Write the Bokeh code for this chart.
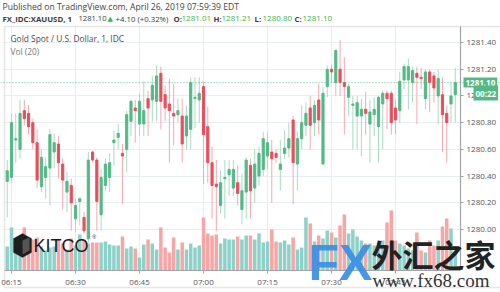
from bokeh.plotting import figure
from bokeh.models import (Range1d, FixedTicker, Label, PolyAnnotation, Span,
                          ColumnDataSource, BoxAnnotation)
from bokeh.embed import file_html
from bokeh.resources import INLINE

# ---------------- data ----------------
first_bar = "06:14"
opens = [1280.36, 1280.39, 1280.67, 1280.60, 1280.89, 1280.87, 1280.80, 1280.65, 1280.32, 1280.39,
         1280.46, 1280.58, 1280.64, 1280.49, 1280.28, 1280.33, 1280.08, 1280.21, 1280.09, 1279.93,
         1280.58, 1280.52, 1280.11, 1280.33, 1280.39, 1280.65, 1280.69, 1280.57, 1280.60, 1280.81,
         1280.91, 1280.79, 1280.79, 1280.98, 1280.97, 1280.96, 1281.17, 1281.01, 1280.94, 1280.87,
         1280.86, 1280.85, 1280.70, 1280.75, 1280.98, 1280.97, 1281.07, 1280.77, 1280.50, 1280.34,
         1280.18, 1280.38, 1280.41, 1280.31, 1280.35, 1280.15, 1280.28, 1280.48, 1280.31, 1280.40,
         1280.45, 1280.55, 1280.58, 1280.57, 1280.45, 1280.57, 1280.61, 1280.82, 1280.49, 1280.68,
         1280.78, 1280.91, 1280.80, 1280.97, 1280.49, 1281.07, 1281.20, 1281.10, 1281.20, 1281.10,
         1280.99, 1280.93, 1280.85, 1280.85, 1280.90, 1280.79, 1280.86, 1280.77, 1280.94, 1281.02,
         1281.02, 1280.91, 1280.89, 1281.12, 1281.12, 1281.10, 1281.17, 1281.14, 1280.98, 1281.18,
         1281.15, 1281.00, 1281.01, 1280.87, 1280.94, 1281.01]
highs = [1280.52, 1280.87, 1280.87, 1280.97, 1280.97, 1280.93, 1280.83, 1280.75, 1280.60, 1280.54,
         1280.75, 1280.72, 1280.70, 1280.53, 1280.43, 1280.38, 1280.23, 1280.24, 1280.13, 1280.58,
         1280.59, 1280.54, 1280.45, 1280.53, 1280.57, 1280.74, 1280.79, 1280.64, 1280.89, 1280.97,
         1280.97, 1281.02, 1281.11, 1281.04, 1281.15, 1281.23, 1281.22, 1281.08, 1281.13, 1281.09,
         1280.98, 1280.98, 1280.93, 1281.14, 1281.14, 1281.14, 1281.11, 1280.92, 1280.62, 1280.52,
         1280.44, 1280.52, 1280.52, 1280.52, 1280.48, 1280.42, 1280.54, 1280.53, 1280.60, 1280.62,
         1280.73, 1280.73, 1280.67, 1280.60, 1280.67, 1280.74, 1280.80, 1280.85, 1280.73, 1280.93,
         1280.95, 1281.00, 1280.97, 1281.09, 1281.07, 1281.23, 1281.23, 1281.35, 1281.42, 1281.29,
         1281.09, 1281.00, 1281.00, 1280.98, 1281.03, 1280.97, 1280.99, 1281.00, 1281.04, 1281.04,
         1281.04, 1280.97, 1281.18, 1281.24, 1281.28, 1281.22, 1281.22, 1281.21, 1281.20, 1281.20,
         1281.18, 1281.20, 1281.14, 1280.93, 1281.10, 1281.21]
lows = [1280.09, 1280.35, 1280.50, 1280.53, 1280.78, 1280.71, 1280.60, 1280.31, 1280.28, 1280.23,
        1280.18, 1280.46, 1280.38, 1280.15, 1280.13, 1279.99, 1279.98, 1280.03, 1279.97, 1279.90,
        1280.50, 1279.99, 1279.99, 1280.29, 1280.28, 1280.48, 1280.60, 1280.19, 1280.43, 1280.70,
        1280.65, 1280.70, 1280.70, 1280.70, 1280.81, 1280.81, 1280.75, 1280.81, 1280.50, 1280.63,
        1280.80, 1280.50, 1280.60, 1280.60, 1280.76, 1280.80, 1280.34, 1280.35, 1280.08, 1279.99,
        1280.12, 1280.08, 1280.25, 1280.25, 1280.18, 1280.04, 1280.08, 1280.08, 1280.20, 1280.33,
        1280.40, 1280.45, 1280.20, 1280.50, 1280.29, 1280.53, 1280.54, 1280.19, 1280.29, 1280.60,
        1280.70, 1280.60, 1280.70, 1280.71, 1280.49, 1280.99, 1281.10, 1281.00, 1281.00, 1280.71,
        1280.85, 1280.60, 1280.60, 1280.55, 1280.71, 1280.50, 1280.70, 1280.50, 1280.60, 1280.75,
        1280.71, 1280.71, 1280.80, 1281.05, 1280.90, 1280.95, 1280.79, 1281.05, 1280.90, 1280.88,
        1280.95, 1280.79, 1280.58, 1280.50, 1280.80, 1280.80]
closes = [1280.44, 1280.80, 1280.68, 1280.87, 1280.83, 1280.77, 1280.65, 1280.37, 1280.54, 1280.47,
          1280.71, 1280.65, 1280.50, 1280.37, 1280.36, 1280.20, 1280.18, 1280.23, 1279.99, 1280.52,
          1280.52, 1280.21, 1280.39, 1280.49, 1280.50, 1280.67, 1280.72, 1280.55, 1280.86, 1280.96,
          1280.89, 1280.96, 1280.89, 1280.91, 1281.08, 1281.15, 1280.96, 1280.91, 1280.89, 1280.85,
          1280.89, 1280.64, 1280.85, 1281.10, 1280.99, 1281.02, 1280.71, 1280.50, 1280.33, 1280.32,
          1280.35, 1280.39, 1280.45, 1280.45, 1280.27, 1280.29, 1280.52, 1280.29, 1280.49, 1280.57,
          1280.68, 1280.65, 1280.53, 1280.54, 1280.49, 1280.61, 1280.68, 1280.50, 1280.68, 1280.80,
          1280.87, 1280.78, 1280.93, 1280.82, 1281.02, 1281.20, 1281.18, 1281.34, 1281.10, 1281.07,
          1281.07, 1280.94, 1280.95, 1280.90, 1280.87, 1280.88, 1280.90, 1280.99, 1281.02, 1280.98,
          1280.80, 1280.82, 1281.11, 1281.22, 1281.22, 1281.19, 1281.14, 1281.13, 1281.18, 1281.10,
          1281.06, 1281.13, 1280.86, 1280.80, 1281.00, 1281.10]
volumes = [24, 43, 32, 30, 43, 33, 31, 33, 24, 20,
           23, 24, 31, 27, 21, 32, 25, 36, 31, 27,
           28, 28, 28, 29, 26, 25, 25, 34, 22, 24,
           22, 13, 26, 31, 27, 21, 43, 23, 18, 33,
           21, 28, 21, 27, 23, 25, 53, 37, 35, 36,
           27, 32, 31, 31, 34, 31, 35, 35, 31, 37,
           28, 29, 41, 29, 28, 30, 26, 33, 21, 23,
           53, 47, 29, 35, 32, 40, 38, 33, 45, 56,
           37, 41, 34, 30, 27, 27, 25, 25, 30, 48,
           60, 30, 27, 25, 22, 20, 38, 20, 18, 30,
           25, 30, 44, 52, 42, 20]
time_ticks = ["06:15", "06:30", "06:45", "07:00", "07:15", "07:30", "07:45"]
price_ticks = [1280.00, 1280.20, 1280.40, 1280.60, 1280.80, 1281.00, 1281.20, 1281.40]
last_price = 1281.10
change_text = "+4.10 (+0.32%)"
countdown = "00:22"


# ---------------- derived ----------------
def to_min(s):
    h, m = s.split(":")
    return int(h) * 60 + int(m)


start = to_min(first_bar)
xs = [start + i for i in range(len(closes))]
up = [c >= o for o, c in zip(opens, closes)]
UP, DOWN = "#53b987", "#eb4d5c"
src = ColumnDataSource(dict(
    x=xs, h=highs, l=lows, v=volumes,
    top=[max(o, c) for o, c in zip(opens, closes)],
    bot=[min(o, c) for o, c in zip(opens, closes)],
    bc=[UP if u else DOWN for u in up],
    wc=["#a9dcc0" if u else "#f5a9b1" for u in up],
    vc=["#8ed1c8" if u else "#f7a5a5" for u in up]))

W, H = 500, 292
# pane (plot area) edges inside the canvas, in data units
X_LEFT, X_RIGHT = 373.36, 480.23          # 06:13.4 .. 08:00.2
P_BOTTOM, P_TOP = 1279.693, 1281.521

p = figure(width=W, height=H,
           x_range=Range1d(372.42, 489.60), y_range=Range1d(1279.528, 1281.715),
           y_axis_location="right", toolbar_location=None, output_backend="svg",
           min_border_left=0, min_border_right=0, min_border_top=0, min_border_bottom=0)
p.title.visible = False
p.extra_y_ranges = {"vol": Range1d(-22, 270)}
p.outline_line_color = None
p.background_fill_color = "white"
p.border_fill_color = "white"

# grid
tick_pos = [to_min(t) for t in time_ticks]
p.xgrid.ticker = FixedTicker(ticks=tick_pos)
p.ygrid.ticker = FixedTicker(ticks=price_ticks)
p.xgrid.grid_line_color = "#e9eef5"
p.ygrid.grid_line_color = "#e9eef5"
try:
    p.xgrid.cross_bounds = (P_BOTTOM, P_TOP)
    p.ygrid.cross_bounds = (X_LEFT, X_RIGHT)
except Exception:
    for l, r, b, t in ((None, None, None, P_BOTTOM), (X_RIGHT, None, None, None),
                       (None, None, P_TOP, None)):
        p.add_layout(BoxAnnotation(left=l, right=r, bottom=b, top=t, fill_color="white",
                                   fill_alpha=1, line_color=None, level="underlay"))

# axes, pinned to the pane edges
p.xaxis.ticker = FixedTicker(ticks=tick_pos)
p.xaxis.major_label_overrides = {t: s for t, s in zip(tick_pos, time_ticks)}
p.xaxis.fixed_location = P_BOTTOM
p.xaxis.bounds = (X_LEFT, X_RIGHT)
p.yaxis.ticker = FixedTicker(ticks=price_ticks)
p.yaxis.major_label_overrides = {v: f"{v:.2f}" for v in price_ticks}
p.yaxis.fixed_location = X_RIGHT
p.yaxis.bounds = (P_BOTTOM, P_TOP)
for ax in (p.xaxis, p.yaxis):
    ax.axis_line_color = "#a0a3a8"
    ax.axis_line_width = 1.2
    ax.major_tick_line_color = "#a0a3a8"
    ax.major_tick_in = 0
    ax.major_tick_out = 3
    ax.minor_tick_line_color = None
    ax.major_label_text_font = "Open Sans"
    ax.major_label_text_font_size = "8px"
    ax.major_label_text_color = "#555555"
    ax.major_label_standoff = 3

# volume, wicks, bodies
p.vbar(x="x", width=0.82, top="v", bottom=0, y_range_name="vol", source=src,
       fill_color="vc", line_color=None)
p.segment(x0="x", y0="l", x1="x", y1="h", source=src, line_color="wc", line_width=1)
p.vbar(x="x", width=0.5, top="top", bottom="bot", source=src,
       fill_color="bc", line_color="bc", line_width=1)

p.add_layout(Span(location=last_price, dimension="width", line_color=UP,
                  line_dash="1 2", line_width=1, line_alpha=0.9))


def lab(text, cx, cy, size, color, bold=False, font="Open Sans", **kw):
    p.add_layout(Label(x=cx, y=H - cy, x_units="screen", y_units="screen",
                       text=text, text_font=font, text_font_size=f"{size}px",
                       text_color=color, text_baseline="middle",
                       text_font_style="bold" if bold else "normal", **kw))


def poly(pts, **kw):
    p.add_layout(PolyAnnotation(xs=[x for x, _ in pts], ys=[H - y for _, y in pts],
                                xs_units="screen", ys_units="screen", **kw))


# pane border
poly([(4, 26), (4, 287), (505, 287), (505, 26)], fill_alpha=0, line_color="#b0b0b0",
     line_width=1.6)

# header
DARK, GREEN = "#3a3a3a", "#3bb54a"
lab("Published on TradingView.com, April 26, 2019 07:59:39 EDT", 2, 6, 8.6, "#444444")
lab("FX_IDC:XAUUSD, 1", 2, 18, 7.8, DARK, bold=True)
lab(f"{last_price:.2f}", 78, 18, 7.6, DARK)
lab("\u25B2", 107, 18, 7, GREEN, font="DejaVu Sans")
lab(change_text, 115, 18, 7.8, DARK)
for key, val, x0 in (("O:", opens[-1], 173), ("H:", highs[-1], 213),
                     ("L:", lows[-1], 254), ("C:", closes[-1], 294)):
    lab(key, x0, 18, 7.8, DARK, bold=True)
    lab(f"{val:.2f}", x0 + 8, 18, 8, GREEN)

lab("Gold Spot / U.S. Dollar, 1, IDC", 10, 38, 8.4, "#4a4a4a")
lab("Vol (20)", 10, 51, 8.4, "#777777")

# price tag and countdown on the price scale
lab(f"{last_price:.2f}", 463, 82, 8, "white", bold=True, background_fill_color=UP,
    padding=2)
lab(countdown, 473, 92.5, 8, "white", bold=True, background_fill_color=UP, padding=2)

# watermarks
poly([(13, 238), (22, 233), (31, 238), (31, 252), (22, 257), (13, 252)],
     fill_color="#1e1e1e", fill_alpha=1, line_color="#1e1e1e")
poly([(22, 240), (29, 237), (29, 250), (22, 254)], fill_color="#555555", fill_alpha=1,
     line_color=None)
lab("KITCO", 33, 245, 18, "#1a1a1a", font="Liberation Sans")
lab("\u00AE", 92, 236, 5, "#1a1a1a", font="Liberation Sans")
lab("FX", 308, 262, 50, "#3a8ee6", bold=True, font="Liberation Sans", text_alpha=0.92)
lab("外汇之家", 371, 253, 31, "#222222", bold=True, font="Noto Sans CJK SC")
lab("www.fx68.com", 372, 280, 19, "#333333", font="Liberation Serif")

open("out.html", "w").write(file_html(p, INLINE))
